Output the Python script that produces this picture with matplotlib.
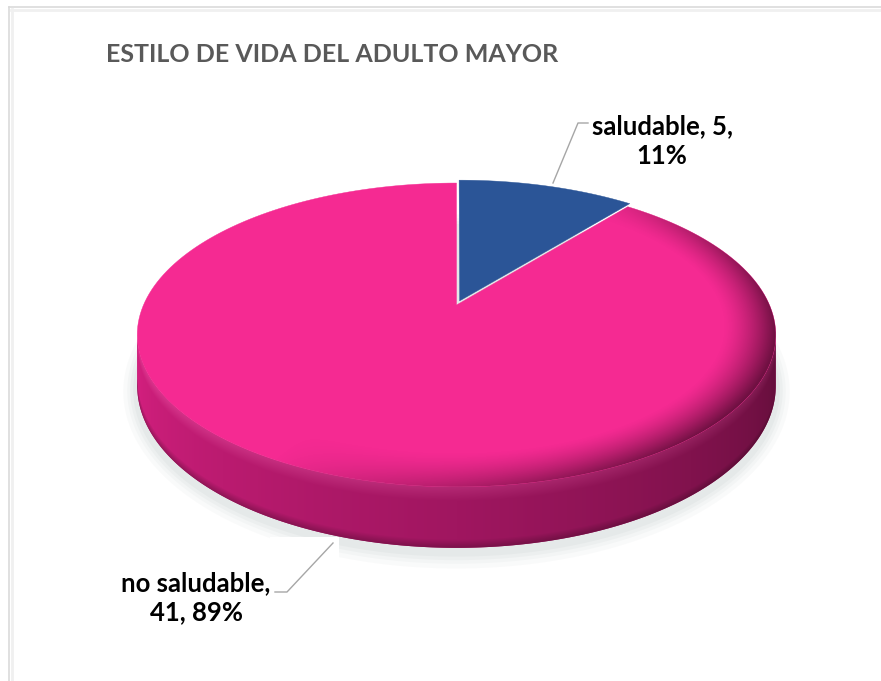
import numpy as np
import matplotlib
matplotlib.use("Agg")
import matplotlib.pyplot as plt
from matplotlib.patches import Polygon, Rectangle

plt.rcParams["font.family"] = ["Lato", "DejaVu Sans"]

# datos
categorias = ["saludable", "no saludable"]
valores = [5, 41]
colores = ["#2B5597", "#F52A92"]
titulo = "ESTILO DE VIDA DEL ADULTO MAYOR"

# geometria del pastel en perspectiva (pixeles)
CX, CY = 456.5, 305.0
RX, RY = 313.0, 146.0
K = 0.197          # perspectiva
H = 49.0           # grosor
EXPLODE = [0.03, 0.0]


def proj(X, Y, z=0.0):
    w = 1.0 / (1.0 - K * Y)
    return CX + RX * X * w, CY + (RY * Y + H * z) * w


def arco(p0, p1, z=0.0, ox=0.0, oy=0.0, n=200):
    phi = np.linspace(p0, p1, n)
    X = np.sin(phi) + ox
    Y = -np.cos(phi) + oy
    return np.column_stack(proj(X, Y, z))


fig = plt.figure(figsize=(8.81, 6.81), dpi=100)
ax = fig.add_axes([0, 0, 1, 1])
ax.set_xlim(0, 881)
ax.set_ylim(681, 0)
ax.axis("off")

# marco
ax.plot([9, 9], [7, 681], color="#DADADA", lw=1.2)
ax.plot([9, 881], [7, 7], color="#DADADA", lw=1.2)
ax.plot([11, 881], [9.5, 9.5], color="#F0F0F0", lw=2)
ax.plot([11.5, 11.5], [9, 681], color="#F0F0F0", lw=2)

total = sum(valores)
angulos = np.cumsum([0] + [v / total * 2 * np.pi for v in valores])

# sombra
for d, a in [(14, 0.05), (10, 0.06), (7, 0.07), (4, 0.08)]:
    s = arco(0, 2 * np.pi, z=1.0)
    cxs, cys = s[:, 0].mean(), s[:, 1].mean()
    sx = cxs + (s[:, 0] - cxs) * (1 + d / 320)
    sy = cys + 4 + (s[:, 1] - cys) * (1 + d / 150)
    ax.add_patch(Polygon(np.column_stack([sx, sy]), closed=True,
                         facecolor="#9AA6A6", edgecolor="none", alpha=a, zorder=1))

# lateral frontal
t_der = np.arccos(-K)
t_izq = 2 * np.pi - t_der
sup = arco(t_der, t_izq, z=0.0)
inf = arco(t_izq, t_der, z=1.0)
lado = Polygon(np.vstack([sup, inf]), closed=True, facecolor="#A51863",
               edgecolor="none", zorder=2)
ax.add_patch(lado)

# degradado del lateral
gx = np.arange(120, 795)
gy = np.arange(300, 565)
PX, PY = np.meshgrid(gx, gy)
ph = np.linspace(t_der, t_izq, 800)
xs = proj(np.sin(ph), -np.cos(ph))[0]
ordn = np.argsort(xs)
phi_px = np.interp(PX, xs[ordn], ph[ordn])
Yp = -np.cos(phi_px)
wp = 1.0 / (1.0 - K * Yp)
zp = (PY - CY - RY * Yp * wp) / (H * wp)
f = np.clip((phi_px - t_der) / (t_izq - t_der), 0, 1)  # 0 derecha, 1 izquierda
c_der = np.array([98, 14, 58]) / 255
c_cen = np.array([160, 22, 96]) / 255
c_izq = np.array([214, 32, 128]) / 255
f3 = f[..., None]
base = np.where(f3 < 0.5, c_der + (c_cen - c_der) * (f3 / 0.5),
                c_cen + (c_izq - c_cen) * ((f3 - 0.5) / 0.5))
bisel = np.clip(1 - zp / 0.22, 0, 1)[..., None] * 0.30
base = base + (np.array([1.0, 0.45, 0.75]) - base) * bisel * (0.3 + 0.7 * f3)
sombra_inf = np.clip((zp - 0.85) / 0.15, 0, 1)[..., None] * 0.25
base = base * (1 - sombra_inf)
img = ax.imshow(np.clip(base, 0, 1), extent=[gx[0], gx[-1] + 1, gy[-1] + 1, gy[0]],
                zorder=3, interpolation="bilinear")
img.set_clip_path(lado)

# caras superiores
caras = []
for i in range(len(valores)):
    m = (angulos[i] + angulos[i + 1]) / 2
    ox, oy = EXPLODE[i] * np.sin(m), -EXPLODE[i] * np.cos(m)
    borde = arco(angulos[i], angulos[i + 1], ox=ox, oy=oy)
    centro = np.array(proj(ox, oy))
    p = Polygon(np.vstack([centro, borde]), closed=True, facecolor=colores[i],
                edgecolor=colores[i], lw=0.3, zorder=4)
    ax.add_patch(p)
    caras.append(p)

# bisel del borde superior (no saludable)
PX2, PY2 = np.meshgrid(np.arange(115, 800), np.arange(170, 505))
u = (PX2 - CX) / RX
v = (PY2 - CY) / RY
Ym = v / (1 + K * v)
Xm = u * (1 - K * Ym)
r = np.hypot(Xm, Ym)
ramp = np.clip((r - 0.84) / 0.16, 0, 1) ** 1.3
oscuro = np.clip(Xm * 0.9 + Ym * 0.5, 0, 1.2)
capa = np.zeros(PX2.shape + (4,))
capa[..., 0] = 105 / 255
capa[..., 1] = 15 / 255
capa[..., 2] = 62 / 255
capa[..., 3] = np.clip(ramp * oscuro * 1.0, 0, 0.95)
ov = ax.imshow(capa, extent=[115, 800, 505, 170], zorder=5, interpolation="bilinear")
ov.set_clip_path(caras[1])

# recuadro blanco de la etiqueta
ax.add_patch(Rectangle((270, 537), 69, 60, facecolor="white", edgecolor="none", zorder=6))

# lineas guia
ax.plot([588, 578, 553], [123, 123, 183], color="#A6A6A6", lw=1, zorder=7)
ax.plot([275, 287, 333], [592, 592, 543], color="#A6A6A6", lw=1, zorder=7)

pct = [round(v / total * 100) for v in valores]
ax.text(662, 141, f"{categorias[0]}, {valores[0]},\n{pct[0]}%", ha="center", va="center",
        fontsize=18.5, fontweight="bold", color="black", linespacing=1.25, zorder=8)
ax.text(196, 598, f"{categorias[1]},\n{valores[1]}, {pct[1]}%", ha="center", va="center",
        fontsize=18.5, fontweight="bold", color="black", linespacing=1.25, zorder=8)

ax.text(106, 55, titulo, ha="left", va="center", fontsize=18, fontweight="bold",
        color="#595959", zorder=8)

fig.savefig("out.png", dpi=100)
